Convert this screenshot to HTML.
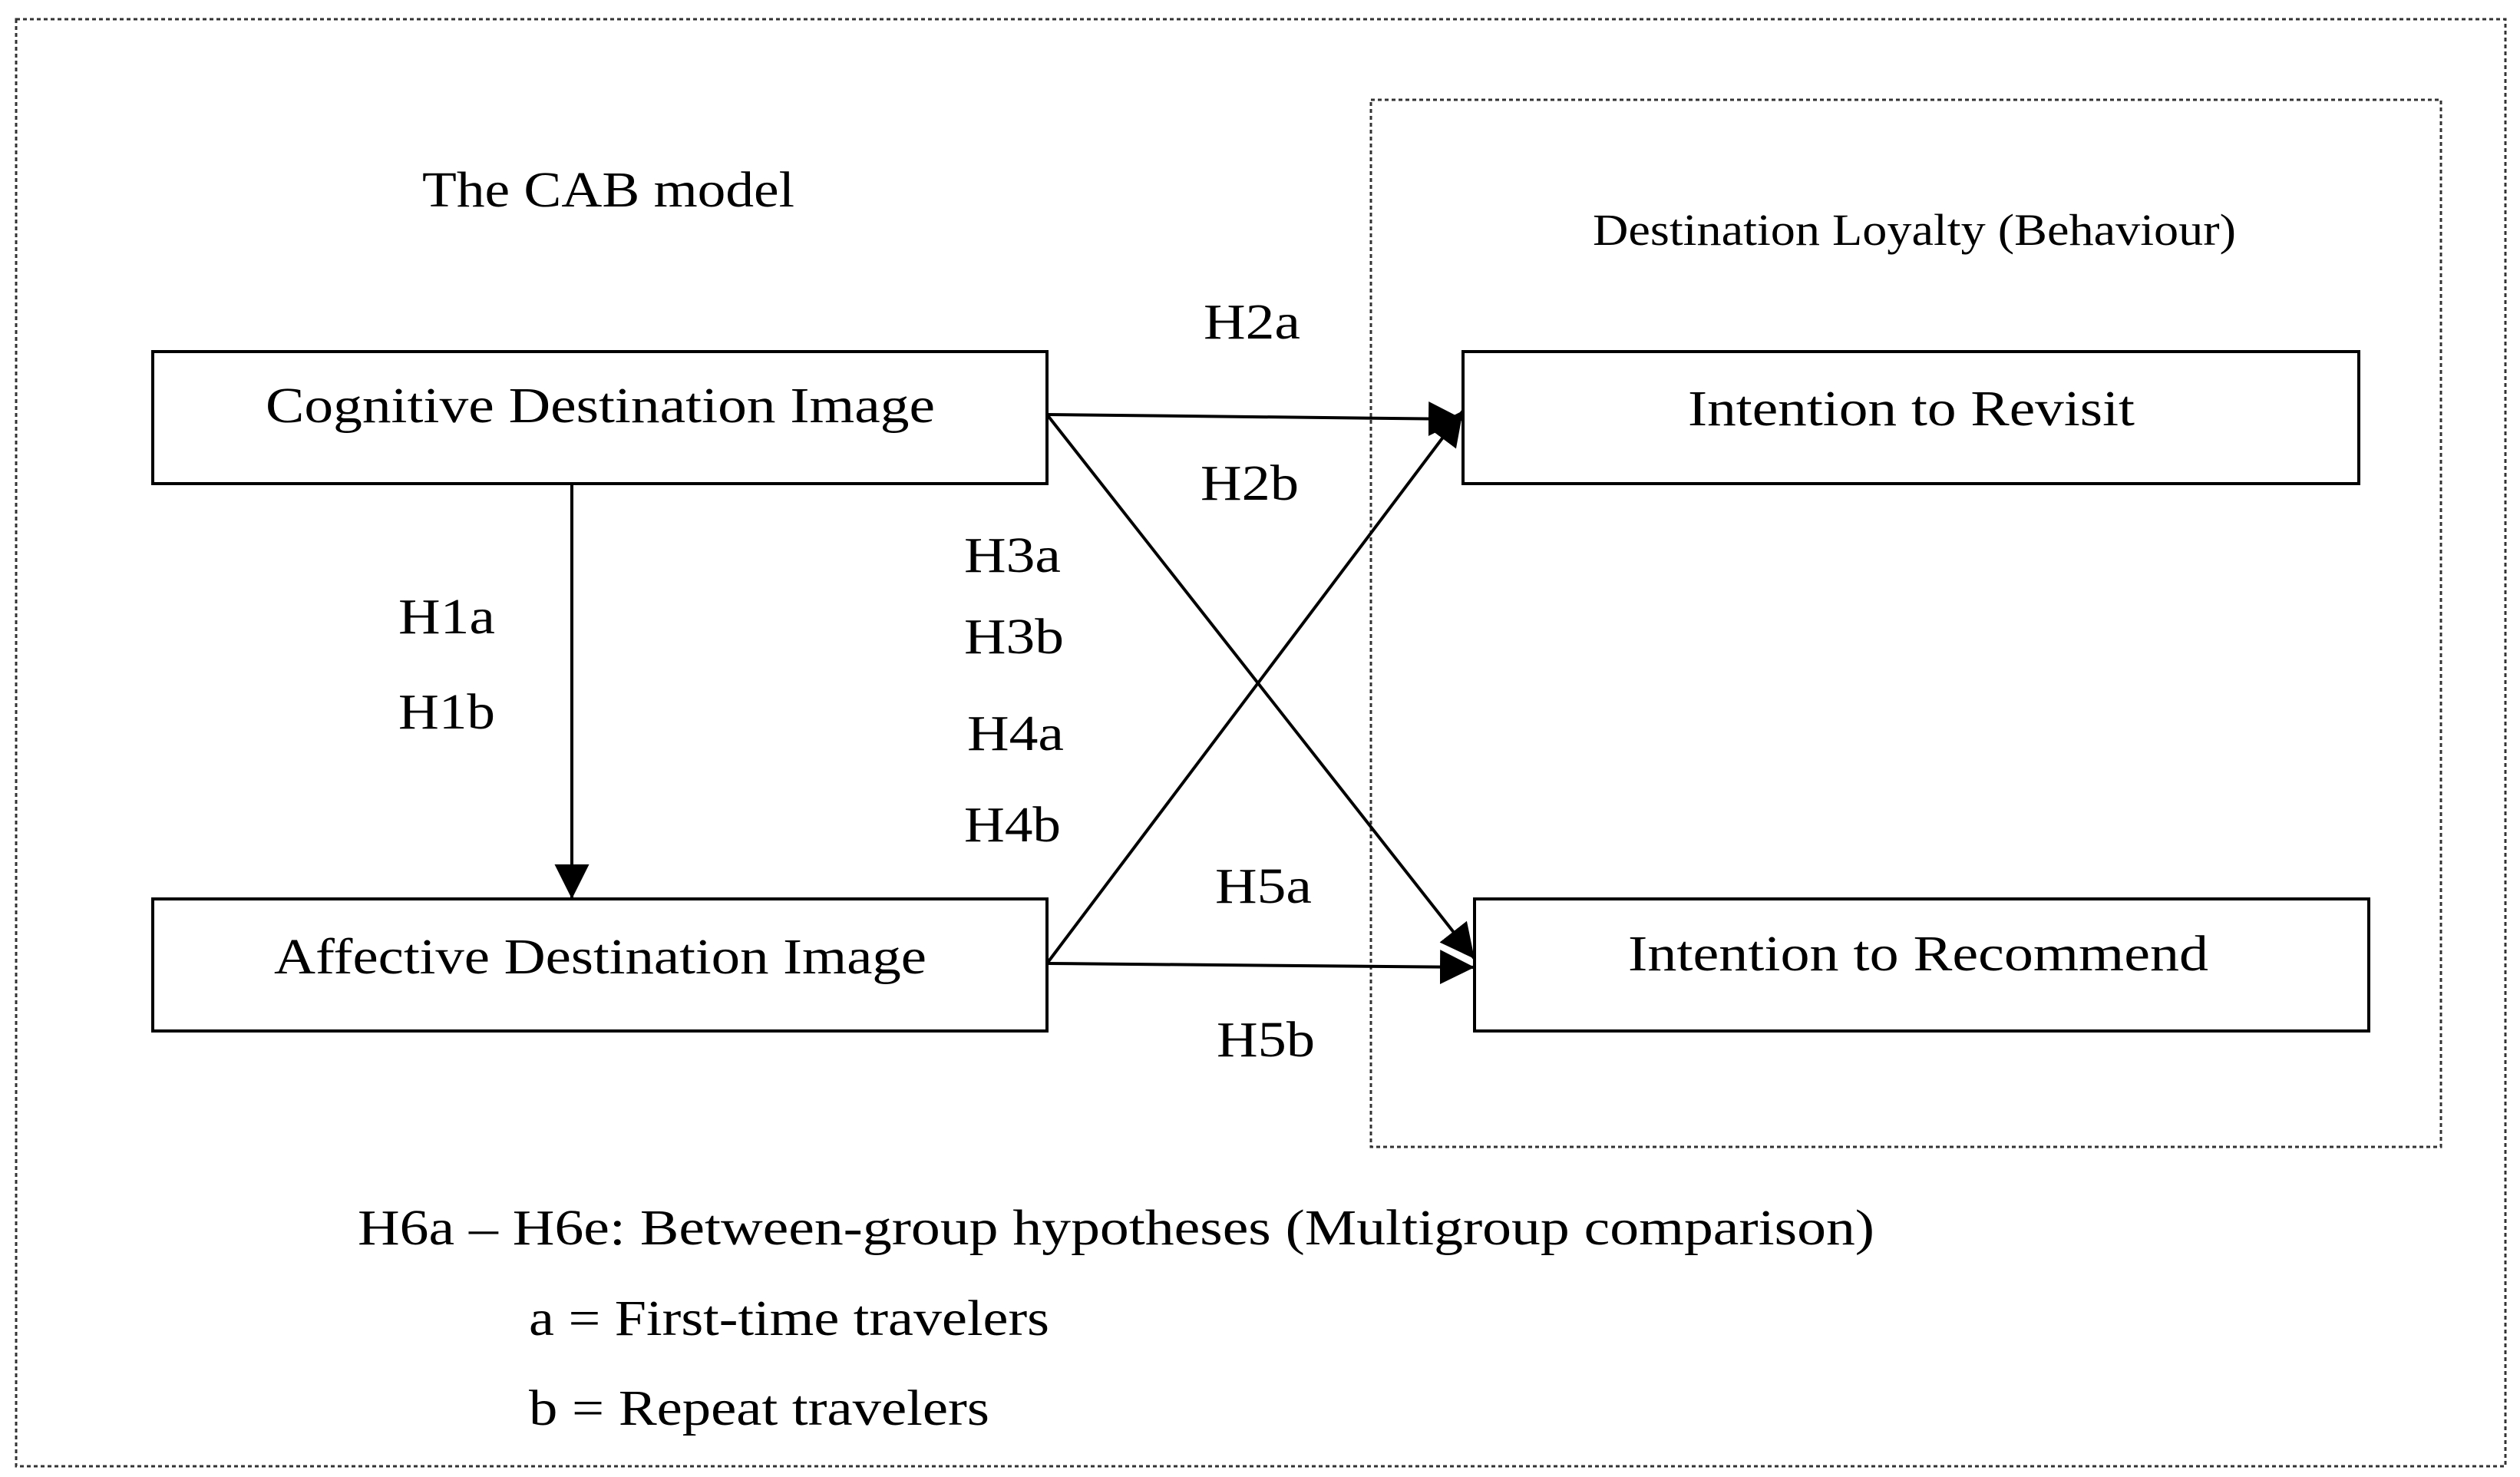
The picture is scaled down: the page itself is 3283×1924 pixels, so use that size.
<!DOCTYPE html>
<html><head><meta charset="utf-8"><style>html,body{margin:0;padding:0;background:#fff}svg{display:block}</style></head>
<body>
<svg width="3283" height="1924" viewBox="0 0 3283 1924" xmlns="http://www.w3.org/2000/svg">
<defs>
<marker id="ah" markerWidth="10" markerHeight="10" refX="9" refY="5" orient="auto" markerUnits="userSpaceOnUse" viewBox="0 0 10 10" style="overflow:visible">
<path d="M0,0 L10,5 L0,10 z" fill="#000" transform="scale(4.5) translate(-8,-5) translate(8,5)"/>
</marker>
<marker id="a2" viewBox="0 0 10 10" refX="10" refY="5" markerWidth="45" markerHeight="45" markerUnits="userSpaceOnUse" orient="auto"><path d="M0,0 L10,5 L0,10 z" fill="#000"/></marker>
</defs>
<rect x="21" y="25" width="3243" height="1885" fill="none" stroke="#333" stroke-width="3" stroke-dasharray="5,4"/>
<rect x="1786" y="130" width="1394" height="1364" fill="none" stroke="#333" stroke-width="3" stroke-dasharray="5,4"/>
<g fill="none" stroke="#000" stroke-width="4">
<rect x="199" y="458" width="1165" height="172"/>
<rect x="199" y="1171" width="1165" height="172"/>
<rect x="1906" y="458" width="1167" height="172"/>
<rect x="1921" y="1171" width="1165" height="172"/>
</g>
<g stroke="#000" stroke-width="4" fill="none" marker-end="url(#a2)">
<line x1="1364" y1="540" x2="1906" y2="546"/>
<line x1="1364" y1="540" x2="1921" y2="1249"/>
<line x1="1364" y1="1255" x2="1906" y2="535"/>
<line x1="1364" y1="1255" x2="1921" y2="1260"/>
<line x1="745" y1="630" x2="745" y2="1171"/>
</g>
<g font-family="'Liberation Serif',serif" font-size="66" fill="#000">
<text x="550" y="269" textLength="485" lengthAdjust="spacingAndGlyphs">The CAB model</text>
<text x="2075" y="319" font-size="58" textLength="838" lengthAdjust="spacingAndGlyphs">Destination Loyalty (Behaviour)</text>
<text x="1568" y="441" textLength="126" lengthAdjust="spacingAndGlyphs">H2a</text>
<text x="1564" y="651" textLength="128" lengthAdjust="spacingAndGlyphs">H2b</text>
<text x="1256" y="745" textLength="126" lengthAdjust="spacingAndGlyphs">H3a</text>
<text x="1256" y="851" textLength="130" lengthAdjust="spacingAndGlyphs">H3b</text>
<text x="1260" y="977" textLength="126" lengthAdjust="spacingAndGlyphs">H4a</text>
<text x="1256" y="1096" textLength="126" lengthAdjust="spacingAndGlyphs">H4b</text>
<text x="519" y="825" textLength="126" lengthAdjust="spacingAndGlyphs">H1a</text>
<text x="519" y="949" textLength="126" lengthAdjust="spacingAndGlyphs">H1b</text>
<text x="1583" y="1176" textLength="126" lengthAdjust="spacingAndGlyphs">H5a</text>
<text x="1585" y="1376" textLength="128" lengthAdjust="spacingAndGlyphs">H5b</text>
<text x="346" y="550" textLength="872" lengthAdjust="spacingAndGlyphs">Cognitive Destination Image</text>
<text x="2199" y="554" textLength="582" lengthAdjust="spacingAndGlyphs">Intention to Revisit</text>
<text x="357" y="1268" textLength="850" lengthAdjust="spacingAndGlyphs">Affective Destination Image</text>
<text x="2121" y="1264" textLength="756" lengthAdjust="spacingAndGlyphs">Intention to Recommend</text>
<text x="466" y="1621" textLength="1976" lengthAdjust="spacingAndGlyphs">H6a – H6e: Between-group hypotheses (Multigroup comparison)</text>
<text x="689" y="1739" textLength="678" lengthAdjust="spacingAndGlyphs">a = First-time travelers</text>
<text x="689" y="1856" textLength="600" lengthAdjust="spacingAndGlyphs">b = Repeat travelers</text>
</g>
</svg>
</body></html>
